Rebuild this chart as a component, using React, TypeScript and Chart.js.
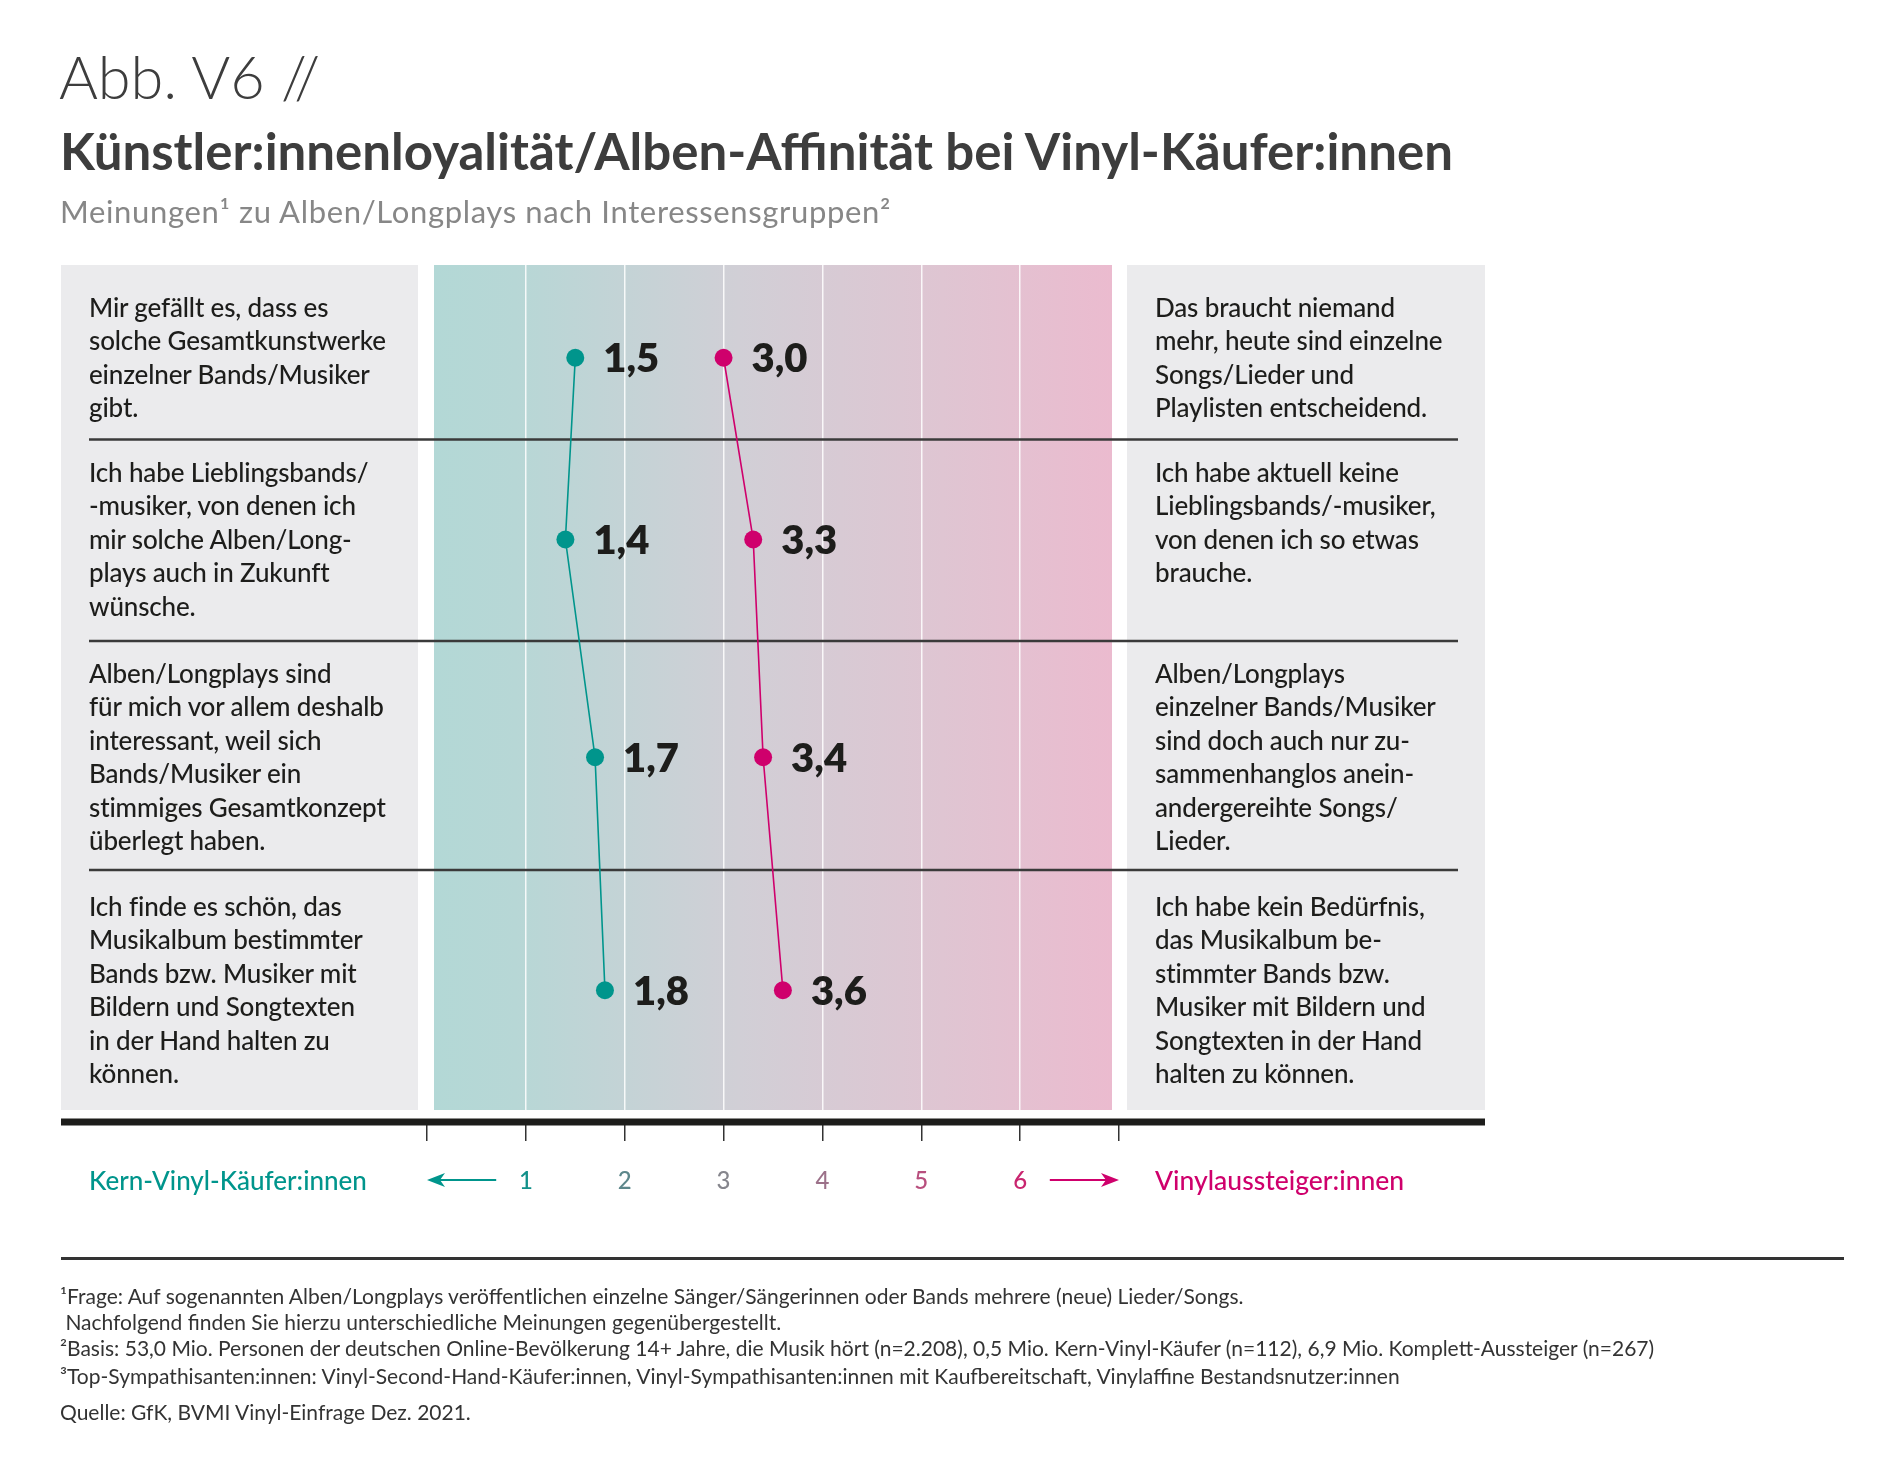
import React, { useEffect, useRef } from 'react';
import { Chart, registerables } from 'chart.js';

Chart.register(...registerables);

// ---------------- data ----------------
const categories = [
  'Gesamtkunstwerke',
  'Lieblingsbands',
  'Gesamtkonzept',
  'Bilder und Songtexte',
];
const kernValues = [1.5, 1.4, 1.7, 1.8];
const aussteigerValues = [3.0, 3.3, 3.4, 3.6];
const seriesNames = ['Kern-Vinyl-Käufer:innen', 'Vinylaussteiger:innen'];
const tickValues = [0, 1, 2, 3, 4, 5, 6, 7];
const tickLabels = ['', '1', '2', '3', '4', '5', '6', ''];

const leftStatements = [
  ['Mir gefällt es, dass es', 'solche Gesamtkunstwerke', 'einzelner Bands/Musiker', 'gibt.'],
  ['Ich habe Lieblingsbands/', '-musiker, von denen ich', 'mir solche Alben/Long-', 'plays auch in Zukunft', 'wünsche.'],
  ['Alben/Longplays sind', 'für mich vor allem deshalb', 'interessant, weil sich', 'Bands/Musiker ein', 'stimmiges Gesamtkonzept', 'überlegt haben.'],
  ['Ich finde es schön, das', 'Musikalbum bestimmter', 'Bands bzw. Musiker mit', 'Bildern und Songtexten', 'in der Hand halten zu', 'können.'],
];
const rightStatements = [
  ['Das braucht niemand', 'mehr, heute sind einzelne', 'Songs/Lieder und', 'Playlisten entscheidend.'],
  ['Ich habe aktuell keine', 'Lieblingsbands/-musiker,', 'von denen ich so etwas', 'brauche.'],
  ['Alben/Longplays', 'einzelner Bands/Musiker', 'sind doch auch nur zu-', 'sammenhanglos anein-', 'andergereihte Songs/', 'Lieder.'],
  ['Ich habe kein Bedürfnis,', 'das Musikalbum be-', 'stimmter Bands bzw.', 'Musiker mit Bildern und', 'Songtexten in der Hand', 'halten zu können.'],
];

const footnotes = [
  '¹Frage: Auf sogenannten Alben/Longplays veröffentlichen einzelne Sänger/Sängerinnen oder Bands mehrere (neue) Lieder/Songs.',
  ' Nachfolgend finden Sie hierzu unterschiedliche Meinungen gegenübergestellt.',
  '²Basis: 53,0 Mio. Personen der deutschen Online-Bevölkerung 14+ Jahre, die Musik hört (n=2.208), 0,5 Mio. Kern-Vinyl-Käufer (n=112), 6,9 Mio. Komplett-Aussteiger (n=267)',
  '³Top-Sympathisanten:innen: Vinyl-Second-Hand-Käufer:innen, Vinyl-Sympathisanten:innen mit Kaufbereitschaft, Vinylaffine Bestandsnutzer:innen',
];
const sourceText = 'Quelle: GfK, BVMI Vinyl-Einfrage Dez. 2021.';

// ---------------- layout / style ----------------
const W = 1900;
const H = 1473;
const FONT = "Lato, 'Noto Sans', sans-serif";
const TEAL = '#00958c';
const MAGENTA = '#cf006c';
const TICK_COLORS = ['#333', '#13918a', '#5d878b', '#86868d', '#9c7189', '#b84f7e', '#c9256f', '#333'];

const X0 = 427; // pixel of value 0
const X7 = 1119; // pixel of value 7
const PANEL_TOP = 265;
const ROW_HEIGHTS = [174.5, 201.5, 229, 240];
const AXIS_Y = 1122;
const X_AXIS_H = 80;
const Y_MAX = AXIS_Y - PANEL_TOP;
const ROW_CUM = ROW_HEIGHTS.reduce<number[]>((acc, h) => [...acc, acc[acc.length - 1] + h], [0]);
const TEXT_FIRST_BASELINE = [317, 482, 683, 916];
const TEXT_LINE_H = 33.5;
const TEXT_SIZE = 26;
// vertical position of each category = visual centre of its statement text block
const ROW_CENTER = leftStatements.map(
  (lines, r) => TEXT_FIRST_BASELINE[r] + ((lines.length - 1) * TEXT_LINE_H) / 2 - 9.5 - PANEL_TOP
);

const fmt = (v: number) => v.toFixed(1).replace('.', ',');

const T = ({ x, b, size, weight = 400, color = '#1d1d1b', children, ls }: any) => (
  <div
    style={{
      position: 'absolute',
      left: x,
      top: b - 0.887 * size,
      fontSize: size,
      lineHeight: `${size}px`,
      fontFamily: FONT,
      fontWeight: weight,
      color,
      whiteSpace: 'pre',
      letterSpacing: ls,
    }}
  >
    {children}
  </div>
);

const backgroundPlugin = {
  id: 'bgPanels',
  beforeDraw(chart: any) {
    const { ctx } = chart;
    const xs = chart.scales.x;
    const ys = chart.scales.y;
    const top = ys.getPixelForValue(0);
    const bottom = ys.getPixelForValue(ROW_CUM[ROW_CUM.length - 1]);
    ctx.save();
    ctx.fillStyle = '#ffffff';
    ctx.fillRect(0, 0, chart.width, chart.height);
    ctx.fillStyle = '#ebebed';
    ctx.fillRect(61, top, xs.getPixelForValue(0) - 9 - 61, bottom - top);
    const rx = xs.getPixelForValue(7) + 8;
    ctx.fillRect(rx, top, 1485 - rx, bottom - top);
    const gl = xs.getPixelForValue(0) + 7;
    const gr = xs.getPixelForValue(7) - 7;
    const g = ctx.createLinearGradient(gl, 0, gr, 0);
    g.addColorStop(0, '#b3d8d6');
    g.addColorStop(0.12, '#b7d7d6');
    g.addColorStop(0.45, '#d1cfd6');
    g.addColorStop(0.75, '#dfc5d2');
    g.addColorStop(1, '#ebbbcf');
    ctx.fillStyle = g;
    ctx.fillRect(gl, top, gr - gl, bottom - top);
    ctx.restore();
  },
  beforeDatasetsDraw(chart: any) {
    const { ctx } = chart;
    const ys = chart.scales.y;
    ctx.save();
    ctx.strokeStyle = '#3a3a3a';
    ctx.lineWidth = 2.5;
    for (let i = 1; i < ROW_HEIGHTS.length; i++) {
      const y = ys.getPixelForValue(ROW_CUM[i]);
      ctx.beginPath();
      ctx.moveTo(89, y);
      ctx.lineTo(1458, y);
      ctx.stroke();
    }
    ctx.restore();
  },
  afterDatasetsDraw(chart: any) {
    const { ctx } = chart;
    ctx.save();
    ctx.font = `800 40px ${FONT}`;
    ctx.fillStyle = '#1d1d1b';
    ctx.textAlign = 'left';
    ctx.textBaseline = 'alphabetic';
    chart.data.datasets.forEach((ds: any, di: number) => {
      const meta = chart.getDatasetMeta(di);
      meta.data.forEach((el: any, i: number) => {
        ctx.fillText(fmt(ds.data[i].x), el.x + 28, el.y + 14.5);
      });
    });
    ctx.restore();
  },
  afterDraw(chart: any) {
    const { ctx } = chart;
    const xs = chart.scales.x;
    ctx.save();
    // thick axis line
    ctx.fillStyle = '#1d1d1b';
    ctx.fillRect(61, AXIS_Y - 3.5, 1485 - 61, 7);
    // arrows
    const ay = 1180;
    const drawArrow = (x1: number, x2: number, color: string) => {
      const dir = Math.sign(x2 - x1);
      ctx.strokeStyle = color;
      ctx.fillStyle = color;
      ctx.lineWidth = 2;
      ctx.beginPath();
      ctx.moveTo(x1, ay);
      ctx.lineTo(x2 - dir * 12, ay);
      ctx.stroke();
      ctx.beginPath();
      ctx.moveTo(x2, ay);
      ctx.lineTo(x2 - dir * 18, ay - 7);
      ctx.lineTo(x2 - dir * 13, ay);
      ctx.lineTo(x2 - dir * 18, ay + 7);
      ctx.closePath();
      ctx.fill();
    };
    drawArrow(xs.getPixelForValue(0.7), xs.getPixelForValue(0), TEAL);
    drawArrow(xs.getPixelForValue(6.3), xs.getPixelForValue(7), MAGENTA);
    // side labels
    ctx.textBaseline = 'alphabetic';
    ctx.textAlign = 'left';
    ctx.font = `500 26px ${FONT}`;
    ctx.fillStyle = TEAL;
    ctx.fillText(seriesNames[0], 89, 1190);
    ctx.font = `500 26.5px ${FONT}`;
    ctx.fillStyle = MAGENTA;
    ctx.fillText(seriesNames[1], 1155, 1190);
    ctx.restore();
  },
};

export default function App() {
  const ref = useRef<HTMLCanvasElement>(null);
  useEffect(() => {
    if (!ref.current) return;
    const chart = new Chart(ref.current, {
      type: 'scatter',
      data: {
        labels: categories,
        datasets: [
          {
            label: seriesNames[0],
            data: kernValues.map((v, i) => ({ x: v, y: ROW_CENTER[i] })),
            showLine: true,
            borderColor: TEAL,
            backgroundColor: TEAL,
            borderWidth: 1.6,
            pointRadius: 9,
            pointHoverRadius: 9,
            pointBorderWidth: 0,
            pointBackgroundColor: TEAL,
          },
          {
            label: seriesNames[1],
            data: aussteigerValues.map((v, i) => ({ x: v, y: ROW_CENTER[i] })),
            showLine: true,
            borderColor: MAGENTA,
            backgroundColor: MAGENTA,
            borderWidth: 1.6,
            pointRadius: 9,
            pointHoverRadius: 9,
            pointBorderWidth: 0,
            pointBackgroundColor: MAGENTA,
          },
        ],
      },
      options: {
        responsive: false,
        animation: false,
        events: [],
        layout: {
          padding: { left: X0, right: W - X7, top: PANEL_TOP, bottom: H - AXIS_Y - X_AXIS_H },
        },
        plugins: { legend: { display: false }, tooltip: { enabled: false } },
        scales: {
          x: {
            type: 'linear',
            min: tickValues[0],
            max: tickValues[tickValues.length - 1],
            position: 'bottom',
            afterFit: (s: any) => {
              s.height = X_AXIS_H;
            },
            afterBuildTicks: (s: any) => {
              s.ticks = tickValues.map((v) => ({ value: v }));
            },
            border: { display: false },
            grid: {
              color: (c: any) =>
                c.tick && c.tick.value >= 1 && c.tick.value <= 6 ? 'rgba(255,255,255,0.85)' : 'rgba(0,0,0,0)',
              lineWidth: 1.5,
              tickColor: '#333',
              tickLength: 19,
              tickWidth: 1.5,
            },
            ticks: {
              autoSkip: false,
              maxRotation: 0,
              padding: 26,
              font: { family: FONT, size: 24, weight: 500 },
              color: (c: any) => TICK_COLORS[c.index] || '#333',
              callback: (v: any) => tickLabels[tickValues.indexOf(Number(v))] ?? '',
            },
          },
          y: { type: 'linear', min: 0, max: Y_MAX, reverse: true, display: false },
        },
      } as any,
      plugins: [backgroundPlugin],
    });
    return () => chart.destroy();
  }, []);

  return (
    <div style={{ position: 'absolute', left: 0, top: 0, width: W, height: H, background: '#fff', overflow: 'hidden' }}>
      <canvas ref={ref} width={W} height={H} style={{ position: 'absolute', left: 0, top: 0, width: W, height: H }} />
      <T x={59} b={100} size={59.5} weight={300} color="#3d3d3d">Abb. V6 //</T>
      <T x={60} b={170} size={51} weight={700} color="#3d3d3d">Künstler:innenloyalität/Alben-Affinität bei Vinyl-Käufer:innen</T>
      <T x={60} b={223} size={31} weight={400} color="#878787" ls={0.65}>Meinungen¹ zu Alben/Longplays nach Interessensgruppen²</T>
      {leftStatements.map((lines, r) =>
        lines.map((l, j) => (
          <T key={`l${r}-${j}`} x={89} b={TEXT_FIRST_BASELINE[r] + j * TEXT_LINE_H} size={TEXT_SIZE} weight={500} ls={-0.15}>
            {l}
          </T>
        ))
      )}
      {rightStatements.map((lines, r) =>
        lines.map((l, j) => (
          <T key={`r${r}-${j}`} x={1155} b={TEXT_FIRST_BASELINE[r] + j * TEXT_LINE_H} size={TEXT_SIZE} weight={500} ls={-0.15}>
            {l}
          </T>
        ))
      )}
      <div style={{ position: 'absolute', left: 61, top: 1257, width: 1844 - 61, height: 2.5, background: '#333' }} />
      {footnotes.map((f, i) => (
        <T key={`f${i}`} x={60} b={[1304, 1330, 1356, 1384][i]} size={21} weight={400} color="#333">
          {f}
        </T>
      ))}
      <T x={60} b={1420} size={21} weight={400} color="#333">{sourceText}</T>
    </div>
  );
}
